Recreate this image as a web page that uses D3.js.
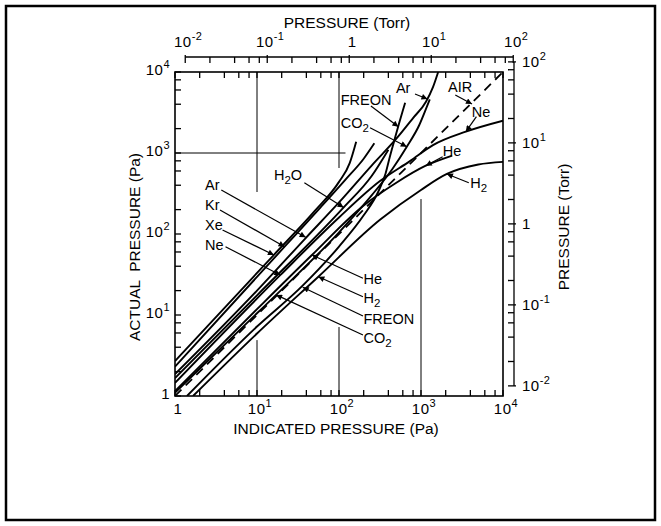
<!DOCTYPE html>
<html>
<head>
<meta charset="utf-8">
<script src="https://cdn.jsdelivr.net/npm/d3@7"></script>
<style>
  body { margin: 0; background: #fff; }
  svg text { font-family: "Liberation Sans", Arial, sans-serif; fill: #000; }
</style>
</head>
<body>
<div id="chart"></div>
<script>
// DATA (indicated Pa, actual Pa)
const gasXe    = [[1, 2.7], [16, 55], [50, 190], [100, 440], [135, 750], [162, 1380]];
const gasKr    = [[1, 2.3], [21.7, 69.7], [60, 215], [120, 470], [200, 850], [270, 1320]];
const gasAr    = [[1, 1.86], [10, 20], [40, 91], [100, 245], [250, 700], [500, 1500], [800, 2700], [1150, 4300], [1400, 6500], [1620, 10000]];
const gasH2O   = [[1, 1.66], [10, 17.5], [114, 213], [250, 520], [400, 1100]];
const gasNe    = [[1, 1.45], [19.2, 31], [100, 160], [316, 450], [740, 800], [1400, 1250], [3524, 1832], [10000, 2500]];
const gasHe    = [[1, 1.15], [10, 11.8], [46.8, 55], [200, 225], [500, 430], [1143, 697], [2400, 930]];
const gasH2    = [[1.66, 1], [10, 5.9], [56, 29.7], [316, 150], [1000, 350], [2070, 551], [5000, 720], [10000, 776]];
const gasFreon = [[1.4, 1], [10, 7.2], [36, 23], [100, 70], [200, 170], [300, 330], [370, 560], [417, 900], [470, 1400], [525, 2100], [640, 4170]];
const gasCO2   = [[1, 1.1], [10, 10.5], [17.1, 17.7], [100, 105], [250, 300], [450, 640], [671, 1197], [950, 2200], [1150, 3500], [1280, 4600]];
const gasAir   = [[1, 1], [10000, 10000]];

const solidCurves = [gasXe, gasKr, gasAr, gasH2O, gasNe, gasHe, gasH2, gasFreon, gasCO2];

// labels: text, label anchor, arrow start, arrow tip (all in Pa)
const notes = [
  {t: "Ar",    lab: [495, 5508],  from: [845, 5346],  to: [1200, 4650]},
  {t: "AIR",   lab: [2138, 5662], from: [2618, 5200], to: [4188, 4027]},
  {t: "FREON", lab: [105, 3917],  from: [245, 3802],  to: [530, 2113]},
  {t: "CO|2",  lab: [105, 2037],  from: [239, 2051],  to: [671, 1197]},
  {t: "Ne",    lab: [4169, 2780], from: [4742, 2805], to: [3524, 1832]},
  {t: "He",    lab: [1841, 931],  from: [1837, 899],  to: [1143, 697]},
  {t: "H|2",   lab: [3981, 370],  from: [3828, 430],  to: [2070, 551]},
  {t: "H|2|O", lab: [16.1, 465],  from: [37.8, 430],  to: [114, 213]},
  {t: "Ar",    lab: [2.32, 349],  from: [3.67, 349],  to: [39.2, 91]},
  {t: "Kr",    lab: [2.32, 198],  from: [3.54, 198],  to: [21.7, 69.7]},
  {t: "Xe",    lab: [2.32, 112],  from: [3.8, 112],   to: [16.1, 55.1]},
  {t: "Ne",    lab: [2.32, 63.4], from: [4.13, 69.7], to: [19.2, 31.2]},
  {t: "He",    lab: [199, 24.2],  from: [196, 28.4],  to: [46.8, 55.1]},
  {t: "H|2",   lab: [199, 14.06], from: [196, 16.8],  to: [56, 29.7]},
  {t: "FREON", lab: [199, 7.74],  from: [196, 9.73],  to: [36.1, 22]},
  {t: "CO|2",  lab: [199, 4.51],  from: [196, 5.66],  to: [17.1, 17.7]}
];

// partial grid lines [x1, y1, x2, y2] in Pa
const gridSegs = [
  [10, 330, 10, 10000], [10, 1, 10, 4.9],
  [100, 653, 100, 10000], [100, 1, 100, 7.1],
  [1000, 1, 1000, 270],
  [1, 1000, 120, 1000]
];

const paDecades = [1, 10, 100, 1000, 10000];
const torrDecades = [0.01, 0.1, 1, 10, 100];
const minorSteps = [2, 4, 6, 8];
const paExp = ["", "1", "2", "3", "4"];
const torrExp = ["-2", "-1", "", "1", "2"];
const PA_PER_TORR = 133.322;

//SETUP
const width = 661, height = 526;
const x = d3.scaleLog().domain([1, 1e4]).range([175, 503]);
const y = d3.scaleLog().domain([1, 1e4]).range([396, 72]);
const xT = d3.scaleLog().domain([0.01, 100]).range([x(0.01 * PA_PER_TORR), x(100 * PA_PER_TORR)]);
const yT = d3.scaleLog().domain([0.01, 100]).range([y(0.01 * PA_PER_TORR), y(100 * PA_PER_TORR)]);

const svg = d3.select("#chart").append("svg")
  .attr("width", width)
  .attr("height", height)
  .attr("viewBox", [0, 0, width, height]);

svg.append("rect")
  .attr("x", 6).attr("y", 6).attr("width", 649).attr("height", 514)
  .attr("fill", "none").attr("stroke", "#000").attr("stroke-width", 2.5);

svg.append("defs").append("marker")
  .attr("id", "head")
  .attr("viewBox", "0 0 10 10")
  .attr("refX", 10).attr("refY", 5)
  .attr("markerWidth", 10).attr("markerHeight", 6)
  .attr("markerUnits", "userSpaceOnUse")
  .attr("orient", "auto")
  .append("path").attr("d", "M0,0L10,5L0,10z").attr("fill", "#000");

const minors = dec => dec.slice(0, -1).flatMap(d => minorSteps.map(m => m * d));

// plot frame
svg.append("rect")
  .attr("x", x(1)).attr("y", y(1e4))
  .attr("width", x(1e4) - x(1)).attr("height", y(1) - y(1e4))
  .attr("fill", "none").attr("stroke", "#000").attr("stroke-width", 1.6);

// frame ticks (inside)
const tk = svg.append("g").attr("stroke", "#000").attr("stroke-width", 1.3);
const paTicks = paDecades.concat(minors(paDecades));
tk.selectAll(".tb").data(paTicks).join("line")
  .attr("x1", d => x(d)).attr("x2", d => x(d))
  .attr("y1", y(1)).attr("y2", y(1) - 6);
tk.selectAll(".tt").data(paTicks).join("line")
  .attr("x1", d => x(d)).attr("x2", d => x(d))
  .attr("y1", y(1e4)).attr("y2", y(1e4) + 6);
tk.selectAll(".tl").data(paTicks).join("line")
  .attr("y1", d => y(d)).attr("y2", d => y(d))
  .attr("x1", x(1)).attr("x2", x(1) + 6);

// grid pieces
svg.append("g").attr("stroke", "#000").attr("stroke-width", 1)
  .selectAll("line").data(gridSegs).join("line")
  .attr("x1", d => x(d[0])).attr("y1", d => y(d[1]))
  .attr("x2", d => x(d[2])).attr("y2", d => y(d[3]));

// Torr axes
const torrTicks = torrDecades.concat(minors(torrDecades));
const topY = 57, rightX = 514;
const ta = svg.append("g").attr("stroke", "#000").attr("stroke-width", 1.3);
ta.append("line").attr("x1", xT(0.01)).attr("x2", xT(100)).attr("y1", topY).attr("y2", topY);
ta.selectAll(".a").data(torrTicks).join("line")
  .attr("x1", d => xT(d)).attr("x2", d => xT(d))
  .attr("y1", d => torrDecades.includes(d) ? topY - 2 : topY).attr("y2", topY + 6);
ta.append("line").attr("y1", yT(0.01)).attr("y2", yT(100)).attr("x1", rightX).attr("x2", rightX);
ta.selectAll(".b").data(torrTicks).join("line")
  .attr("y1", d => yT(d)).attr("y2", d => yT(d))
  .attr("x1", d => torrDecades.includes(d) ? rightX + 2 : rightX).attr("x2", rightX - 6);

// tick labels with superscript
function powLabel(sel, exp) {
  sel.each(function(d, i) {
    const t = d3.select(this);
    if (exp[i] === "") { t.text("1"); return; }
    t.append("tspan").text("10");
    t.append("tspan").attr("dy", -7).style("font-size", "11px").text(exp[i]);
  });
}
const tickFont = g => g.style("font-size", "15px").style("letter-spacing", "0.5px");
svg.append("g").call(tickFont).attr("text-anchor", "middle")
  .selectAll("text").data(paDecades).join("text")
  .attr("x", d => x(d) + 3).attr("y", 414)
  .call(powLabel, paExp);
svg.append("g").call(tickFont).attr("text-anchor", "end")
  .selectAll("text").data(paDecades).join("text")
  .attr("x", 170).attr("y", d => y(d) + 3)
  .call(powLabel, paExp);
svg.append("g").call(tickFont).attr("text-anchor", "middle")
  .selectAll("text").data(torrDecades).join("text")
  .attr("x", d => xT(d) + 3).attr("y", 47)
  .call(powLabel, torrExp);
svg.append("g").call(tickFont).attr("text-anchor", "start")
  .selectAll("text").data(torrDecades).join("text")
  .attr("x", 522).attr("y", d => yT(d) + 5)
  .call(powLabel, torrExp);

// axis titles
const titleFont = t => t.style("font-size", "15.5px");
svg.append("text").attr("x", 347).attr("y", 28).attr("text-anchor", "middle")
  .call(titleFont).text("PRESSURE (Torr)");
svg.append("text").attr("x", 336).attr("y", 434).attr("text-anchor", "middle")
  .call(titleFont).text("INDICATED PRESSURE (Pa)");
svg.append("text").attr("transform", "translate(140,247) rotate(-90)").attr("text-anchor", "middle")
  .call(titleFont).style("white-space", "pre").text("ACTUAL  PRESSURE (Pa)");
svg.append("text").attr("transform", "translate(569,227) rotate(-90)").attr("text-anchor", "middle")
  .call(titleFont).text("PRESSURE (Torr)");

// curves
const line = d3.line()
  .x(d => x(d[0])).y(d => y(d[1]))
  .curve(d3.curveMonotoneX);
const plot = svg.append("g");
plot.append("clipPath").attr("id", "clip").append("rect")
  .attr("x", x(1)).attr("y", y(1e4))
  .attr("width", x(1e4) - x(1)).attr("height", y(1) - y(1e4));
const curves = plot.append("g").attr("clip-path", "url(#clip)")
  .attr("fill", "none").attr("stroke", "#000");
curves.selectAll("path.gas").data(solidCurves).join("path")
  .attr("class", "gas")
  .attr("stroke-width", 1.9)
  .attr("d", line);
curves.append("path")
  .attr("stroke-width", 1.8)
  .attr("stroke-dasharray", "9,6")
  .attr("d", line(gasAir));

// labels and arrows
const ann = svg.append("g");
ann.selectAll("line").data(notes).join("line")
  .attr("x1", d => x(d.from[0])).attr("y1", d => y(d.from[1]))
  .attr("x2", d => x(d.to[0])).attr("y2", d => y(d.to[1]))
  .attr("stroke", "#000").attr("stroke-width", 1.2)
  .attr("marker-end", "url(#head)");
ann.selectAll("text").data(notes).join("text")
  .attr("x", d => x(d.lab[0])).attr("y", d => y(d.lab[1]))
  .style("font-size", "14.5px")
  .each(function(d) {
    const parts = d.t.split("|");
    const t = d3.select(this);
    t.append("tspan").text(parts[0]);
    if (parts.length > 1) t.append("tspan").attr("dy", 4).style("font-size", "11.5px").text(parts[1]);
    if (parts.length > 2) t.append("tspan").attr("dy", -4).text(parts[2]);
  });
</script>
</body>
</html>
